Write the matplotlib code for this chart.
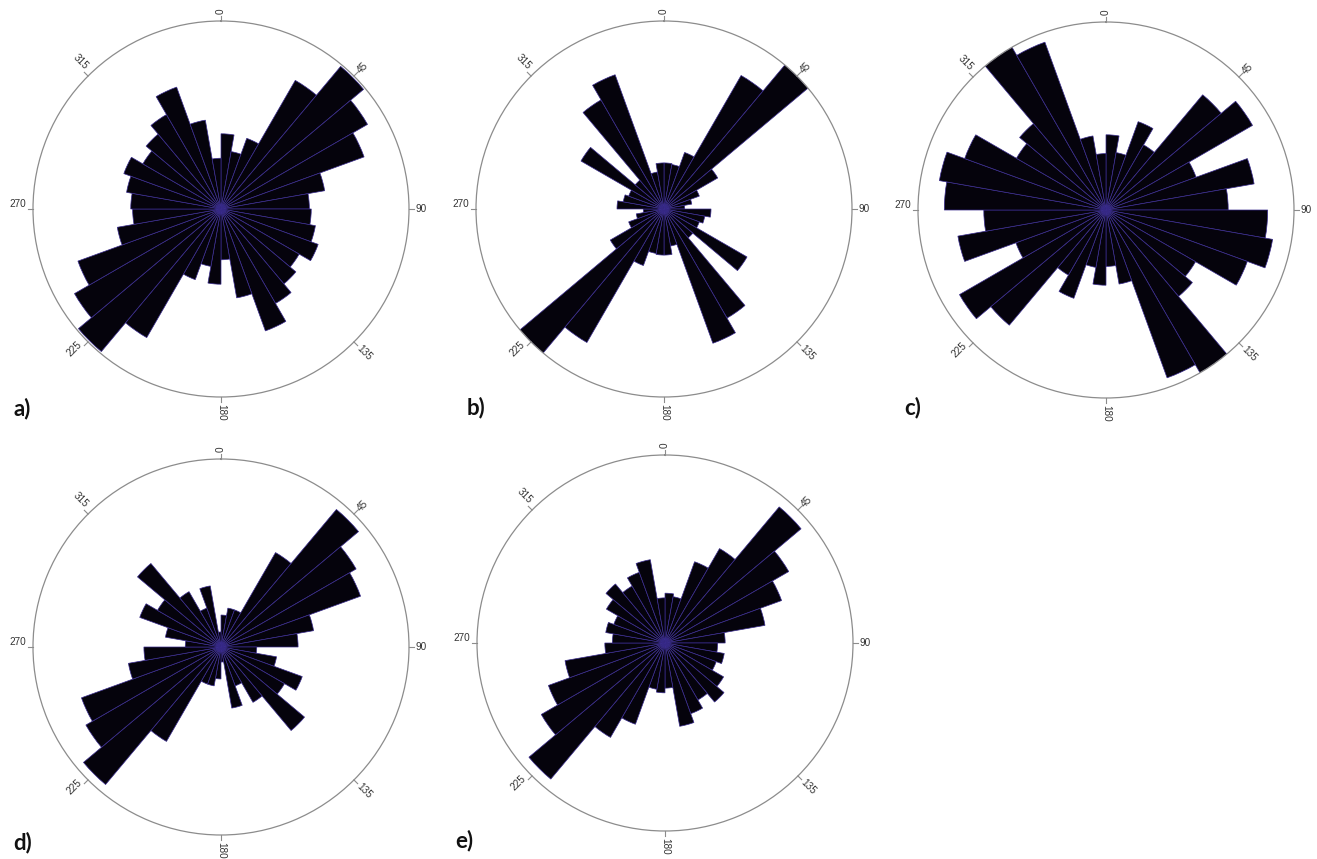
import matplotlib
matplotlib.use('Agg')
from matplotlib import pyplot as plt
import numpy as np

# bin start angles in degrees (compass, clockwise from north), 10 degree bins
bin_starts = list(range(0, 360, 10))

# relative bar lengths (1.0 = outer circle)
rose_a = [0.40, 0.31, 0.40, 0.79, 0.99, 0.90, 0.81, 0.56, 0.47, 0.48, 0.51, 0.55, 0.48, 0.52, 0.58, 0.69, 0.48, 0.27,
          0.40, 0.31, 0.40, 0.79, 0.99, 0.90, 0.81, 0.56, 0.47, 0.48, 0.51, 0.55, 0.48, 0.52, 0.58, 0.69, 0.48, 0.27]
rose_b = [0.245, 0.24, 0.32, 0.82, 1.00, 0.33, 0.20, 0.15, 0.11, 0.25, 0.22, 0.20, 0.51, 0.20, 0.67, 0.76, 0.20, 0.245,
          0.245, 0.24, 0.32, 0.82, 1.00, 0.33, 0.20, 0.15, 0.11, 0.25, 0.22, 0.20, 0.51, 0.20, 0.67, 0.76, 0.20, 0.245]
rose_c = [0.40, 0.31, 0.50, 0.40, 0.80, 0.90, 0.51, 0.80, 0.65, 0.86, 0.90, 0.80, 0.55, 0.60, 1.00, 0.95, 0.40, 0.30,
          0.40, 0.31, 0.50, 0.40, 0.80, 0.90, 0.51, 0.80, 0.65, 0.86, 0.90, 0.80, 0.55, 0.60, 1.00, 0.95, 0.40, 0.30]
rose_d = [0.17, 0.21, 0.21, 0.58, 0.955, 0.83, 0.79, 0.50, 0.41, 0.19, 0.30, 0.46, 0.39, 0.58, 0.34, 0.22, 0.33, 0.08,
          0.17, 0.21, 0.21, 0.58, 0.955, 0.83, 0.79, 0.50, 0.41, 0.19, 0.30, 0.46, 0.39, 0.58, 0.34, 0.22, 0.33, 0.08]
rose_e = [0.265, 0.25, 0.46, 0.58, 0.945, 0.76, 0.66, 0.54, 0.32, 0.28, 0.32, 0.29, 0.36, 0.41, 0.35, 0.40, 0.45, 0.24,
          0.265, 0.25, 0.46, 0.58, 0.945, 0.76, 0.66, 0.54, 0.32, 0.28, 0.32, 0.29, 0.36, 0.41, 0.35, 0.40, 0.45, 0.24]

roses = [rose_a, rose_b, rose_c, rose_d, rose_e]
panel_labels = ['a)', 'b)', 'c)', 'd)', 'e)']

# compass labels around each circle
label_angles = [0, 45, 90, 135, 180, 225, 270, 315]
label_texts = ['0', '45', '90', '135', '180', '225', '270', '315']

# layout in pixels: circle centres, radius and panel label positions
W, H = 1317, 859
radius_px = 188
centers = [(221, 209), (664, 209), (1106, 210), (221, 647), (665, 643)]
label_pos = [(13, 409), (467, 408), (904, 408), (13, 843), (455, 841)]

fig = plt.figure(figsize=(W / 100, H / 100), dpi=100)

for rose, (cx, cy), lab, (lx, ly) in zip(roses, centers, panel_labels, label_pos):
    ax = fig.add_axes([(cx - radius_px) / W, (H - cy - radius_px) / H, 2 * radius_px / W, 2 * radius_px / H],
                      projection='polar')
    ax.set_theta_zero_location('N')
    ax.set_theta_direction(-1)
    ax.bar(np.deg2rad(bin_starts), rose, width=np.deg2rad(10), align='edge',
           color='#05030c', edgecolor='#3a2c8f', linewidth=0.5)
    ax.set_ylim(0, 1)
    ax.grid(False)
    ax.set_xticks([])
    ax.set_yticks([])
    ax.spines['polar'].set_color('#8c8c8c')
    ax.spines['polar'].set_linewidth(0.9)

    # tick marks and rotated compass labels
    for ang, txt in zip(label_angles, label_texts):
        th = np.deg2rad(ang)
        ax.plot([th, th], [1.0, 1.028], color='#8c8c8c', lw=0.8, clip_on=False)
        math_ang = 90 - ang
        if ang <= 180:
            rot = math_ang
            ha, va = 'left', 'center'
        else:
            rot = math_ang + 180
            ha, va = 'right', 'bottom'
        rot = (rot + 180) % 360 - 180
        ax.text(th, 1.035, txt, rotation=rot, rotation_mode='anchor', ha=ha, va=va,
                fontsize=7.2, color='#333333', family='Liberation Sans', clip_on=False)

    fig.text(lx / W, 1 - ly / H, lab, ha='left', va='center', fontsize=16,
             fontweight='bold', family='Lato', color='#111111')

plt.savefig('out.png', dpi=100, facecolor='white')
